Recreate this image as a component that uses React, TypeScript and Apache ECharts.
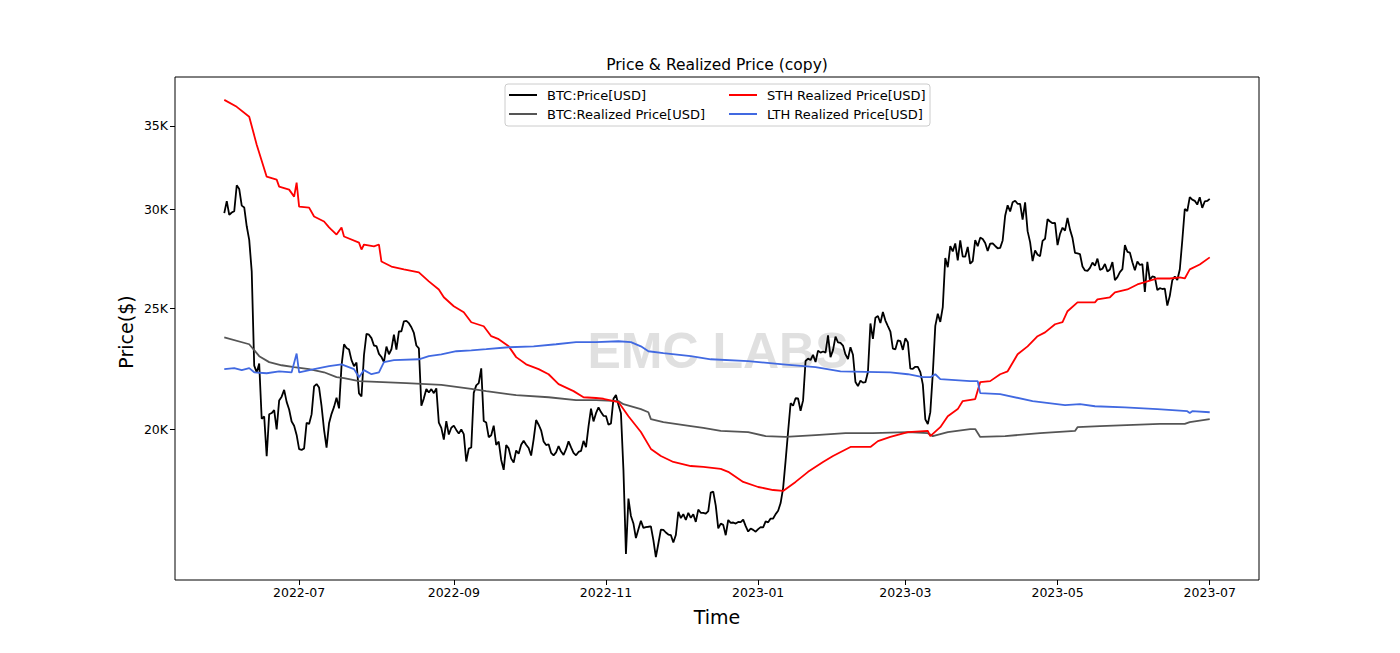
import React, { useEffect, useRef } from 'react';
import * as echarts from 'echarts';

// ---------- DATA ----------
const priceStart = '2022-06-01';
const priceJun2022 = [29800, 30467, 29704, 29833, 29906, 31371, 31155, 30214, 30112, 29083, 28360, 26762, 22487, 22206, 22573, 20381, 20471, 19018, 20553, 20599, 20711, 19987, 21085, 21232, 21502, 21028, 20736, 20281, 20123, 19785];
const priceJul2022 = [19269, 19243, 19298, 20232, 20190, 20549, 21637, 21731, 21592, 20860, 19970, 19323, 20212, 20569, 20836, 21190, 20779, 22485, 23389, 23231, 23164, 22714, 22465, 22609, 21361, 21239, 22930, 23843, 23805, 23657, 23336];
const priceAug2022 = [23314, 22978, 22846, 22630, 23289, 22961, 23175, 23809, 23164, 23948, 23957, 24402, 24425, 24319, 24136, 23883, 23336, 23213, 20877, 21166, 21534, 21398, 21529, 21368, 21560, 20240, 20041, 19617, 20297, 19797, 20050];
const priceSep2022 = [20127, 19969, 19832, 19986, 19812, 18837, 19290, 19329, 21381, 21680, 21769, 22371, 20296, 20241, 19701, 19772, 20127, 19420, 19545, 18891, 18547, 19413, 19297, 18937, 18802, 19222, 19110, 19426, 19573, 19431];
const priceOct2022 = [19312, 19044, 19623, 20336, 20160, 19955, 19546, 19417, 19446, 19141, 19051, 19157, 19382, 19185, 19068, 19268, 19550, 19334, 19139, 19053, 19172, 19208, 19567, 19345, 20095, 20771, 20285, 20595, 20818, 20635, 20495];
const priceNov2022 = [20485, 20159, 20209, 21148, 21300, 20906, 20592, 18541, 15880, 17587, 17034, 16800, 16353, 16619, 16885, 16663, 16689, 16698, 16711, 16292, 15787, 16190, 16610, 16605, 16522, 16459, 16444, 16217, 16444, 17168];
const priceDec2022 = [16968, 17089, 16908, 17130, 16975, 17089, 16848, 17233, 17134, 17129, 17105, 17186, 17784, 17816, 17364, 16647, 16796, 16757, 16439, 16907, 16817, 16830, 16797, 16847, 16841, 16919, 16717, 16552, 16642, 16602, 16547];
const priceJan2023 = [16625, 16688, 16680, 16863, 16836, 16951, 16955, 17091, 17197, 17446, 17934, 18869, 19910, 20976, 20880, 21170, 21161, 20689, 21086, 22677, 22777, 22720, 22934, 22636, 23117, 23032, 23078, 23032, 23774, 22840, 23139];
const priceFeb2023 = [23723, 23471, 23449, 23331, 22955, 22760, 23264, 22940, 21815, 21651, 21870, 21788, 21808, 22221, 24307, 23623, 24565, 24641, 24327, 24829, 24436, 24188, 23947, 23198, 23175, 23562, 23522, 23147];
const priceMar2023 = [23646, 23475, 22362, 22354, 22436, 22429, 22219, 21718, 20363, 20187, 20633, 22163, 24197, 24746, 24375, 25052, 27423, 26965, 28038, 27767, 28176, 27307, 28333, 27493, 27494, 27994, 27139, 27268, 28348, 28033, 28478];
const priceApr2023 = [28411, 28199, 27790, 28168, 28177, 28044, 27925, 27947, 28333, 29653, 30235, 29892, 30400, 30485, 30318, 30315, 29445, 30397, 28822, 28245, 27276, 27817, 27591, 27525, 28307, 28422, 29473, 29340, 29248, 29268];
const priceMay2023 = [28091, 28680, 29006, 28847, 29534, 28904, 28454, 27694, 27658, 27621, 27000, 26805, 26785, 26931, 27192, 27036, 27398, 26833, 26890, 27130, 26753, 26851, 27225, 26334, 26476, 26719, 26868, 28085, 27745, 27702, 27219];
const priceJun2023 = [26819, 27249, 27075, 27119, 25760, 27238, 26346, 26508, 26480, 25851, 25940, 25902, 25918, 25124, 25576, 26328, 26511, 26336, 26851, 28328, 30027, 29912, 30696, 30548, 30480, 30271, 30688, 30087, 30446, 30477];
const priceJul2023 = [30590];

const realizedPrice: [string, number][] = [
  ['2022-06-01', 23690], ['2022-06-11', 23390], ['2022-06-15', 22880], ['2022-06-19', 22630], ['2022-06-24', 22500],
  ['2022-06-29', 22420], ['2022-07-05', 22340], ['2022-07-11', 22210], ['2022-07-16', 22010], ['2022-07-19', 21970],
  ['2022-07-25', 21850], ['2022-08-13', 21770], ['2022-08-27', 21700], ['2022-09-08', 21540], ['2022-09-14', 21450],
  ['2022-09-26', 21290], ['2022-10-09', 21210], ['2022-10-20', 21100], ['2022-10-28', 21100], ['2022-11-06', 21060],
  ['2022-11-08', 20940], ['2022-11-15', 20750], ['2022-11-18', 20630], ['2022-11-19', 20370], ['2022-11-24', 20260],
  ['2022-12-05', 20110], ['2022-12-10', 20040], ['2022-12-17', 19930], ['2022-12-28', 19890], ['2023-01-04', 19740],
  ['2023-01-12', 19710], ['2023-01-24', 19780], ['2023-02-05', 19850], ['2023-02-16', 19850], ['2023-03-02', 19890],
  ['2023-03-10', 19850], ['2023-03-12', 19740], ['2023-03-18', 19890], ['2023-03-27', 20000], ['2023-03-29', 20000],
  ['2023-03-31', 19710], ['2023-04-10', 19740], ['2023-04-24', 19850], ['2023-05-08', 19930], ['2023-05-09', 20070],
  ['2023-05-18', 20110], ['2023-06-11', 20190], ['2023-06-21', 20190], ['2023-06-23', 20260], ['2023-07-01', 20370],
];

const sthRealizedPrice: [string, number][] = [
  ['2022-06-01', 36730], ['2022-06-06', 36260], ['2022-06-11', 35600], ['2022-06-14', 33810], ['2022-06-18', 31870],
  ['2022-06-22', 31700], ['2022-06-23', 31290], ['2022-06-27', 31120], ['2022-06-29', 30720], ['2022-06-30', 31520],
  ['2022-07-01', 30160], ['2022-07-05', 30100], ['2022-07-07', 29610], ['2022-07-11', 29340], ['2022-07-13', 29020],
  ['2022-07-16', 28640], ['2022-07-18', 29020], ['2022-07-19', 28540], ['2022-07-25', 28220], ['2022-07-26', 27860],
  ['2022-07-27', 28120], ['2022-07-31', 28020], ['2022-08-02', 28120], ['2022-08-03', 27250], ['2022-08-07', 27000],
  ['2022-08-12', 26860], ['2022-08-18', 26710], ['2022-08-22', 26270], ['2022-08-26', 25880], ['2022-08-28', 25510],
  ['2022-09-01', 25090], ['2022-09-05', 24810], ['2022-09-08', 24360], ['2022-09-13', 24180], ['2022-09-16', 23740],
  ['2022-09-19', 23610], ['2022-09-23', 23300], ['2022-09-26', 22840], ['2022-09-30', 22540], ['2022-10-05', 22340],
  ['2022-10-09', 22130], ['2022-10-13', 21730], ['2022-10-19', 21450], ['2022-10-23', 21210], ['2022-10-28', 21180],
  ['2022-10-31', 21150], ['2022-11-06', 21020], ['2022-11-10', 20480], ['2022-11-15', 19890], ['2022-11-19', 19280],
  ['2022-11-23', 19030], ['2022-11-28', 18820], ['2022-12-05', 18680], ['2022-12-10', 18650], ['2022-12-17', 18580],
  ['2022-12-20', 18480], ['2022-12-26', 18140], ['2023-01-01', 17970], ['2023-01-07', 17870], ['2023-01-11', 17840],
  ['2023-01-16', 18140], ['2023-01-21', 18480], ['2023-01-27', 18820], ['2023-01-31', 19030], ['2023-02-07', 19350],
  ['2023-02-15', 19350], ['2023-02-18', 19560], ['2023-02-23', 19710], ['2023-03-02', 19890], ['2023-03-10', 19930],
  ['2023-03-11', 19740], ['2023-03-15', 20070], ['2023-03-18', 20480], ['2023-03-22', 20750], ['2023-03-24', 21060],
  ['2023-03-29', 21140], ['2023-03-31', 21810], ['2023-04-04', 21850], ['2023-04-08', 22130], ['2023-04-11', 22250],
  ['2023-04-15', 22960], ['2023-04-19', 23300], ['2023-04-23', 23740], ['2023-04-26', 23910], ['2023-04-30', 24270],
  ['2023-05-03', 24360], ['2023-05-05', 24860], ['2023-05-09', 25270], ['2023-05-16', 25270], ['2023-05-17', 25410],
  ['2023-05-22', 25510], ['2023-05-24', 25740], ['2023-05-29', 25880], ['2023-06-02', 26120], ['2023-06-06', 26270],
  ['2023-06-10', 26410], ['2023-06-15', 26410], ['2023-06-19', 26460], ['2023-06-21', 26410], ['2023-06-23', 26860],
  ['2023-06-27', 27100], ['2023-07-01', 27460],
];

const lthRealizedPrice: [string, number][] = [
  ['2022-06-01', 22340], ['2022-06-05', 22380], ['2022-06-08', 22300], ['2022-06-11', 22380], ['2022-06-13', 22210],
  ['2022-06-18', 22170], ['2022-06-23', 22250], ['2022-06-28', 22210], ['2022-06-30', 22990], ['2022-07-01', 22210],
  ['2022-07-07', 22340], ['2022-07-13', 22460], ['2022-07-18', 22540], ['2022-07-23', 22340], ['2022-07-25', 22010],
  ['2022-07-27', 22300], ['2022-07-30', 22130], ['2022-08-02', 22210], ['2022-08-04', 22630], ['2022-08-08', 22710],
  ['2022-08-18', 22750], ['2022-08-22', 22880], ['2022-08-27', 22960], ['2022-09-02', 23090], ['2022-09-08', 23130],
  ['2022-09-14', 23180], ['2022-09-23', 23260], ['2022-10-03', 23300], ['2022-10-12', 23390], ['2022-10-20', 23480],
  ['2022-10-28', 23480], ['2022-11-06', 23520], ['2022-11-11', 23480], ['2022-11-15', 23300], ['2022-11-18', 23090],
  ['2022-11-24', 23010], ['2022-12-05', 22880], ['2022-12-13', 22750], ['2022-12-28', 22670], ['2023-01-11', 22540],
  ['2023-01-24', 22420], ['2023-02-03', 22250], ['2023-02-23', 22210], ['2023-03-02', 22130], ['2023-03-08', 22010],
  ['2023-03-11', 22010], ['2023-03-13', 22130], ['2023-03-15', 21930], ['2023-03-27', 21850], ['2023-03-30', 21850],
  ['2023-03-31', 21370], ['2023-04-08', 21330], ['2023-04-21', 21060], ['2023-05-04', 20900], ['2023-05-10', 20940],
  ['2023-05-16', 20860], ['2023-05-28', 20820], ['2023-06-10', 20750], ['2023-06-22', 20670], ['2023-06-23', 20600],
  ['2023-06-24', 20670], ['2023-07-01', 20630],
];

const xTickDates = ['2022-07-01', '2022-09-01', '2022-11-01', '2023-01-01', '2023-03-01', '2023-05-01', '2023-07-01'];
const yTickValues = [20000, 25000, 30000, 35000];
const seriesNames = ['BTC:Price[USD]', 'BTC:Realized Price[USD]', 'STH Realized Price[USD]', 'LTH Realized Price[USD]'];
const seriesColors = ['#000000', '#555555', '#ff0000', '#4169e1'];
const titleText = 'Price & Realized Price (copy)';
const xAxisTitle = 'Time';
const yAxisTitle = 'Price($)';
const watermarkText = 'EMC LABS';

// ---------- HELPERS ----------
const DAY = 86400000;
const utc = (s: string) => Date.UTC(+s.slice(0, 4), +s.slice(5, 7) - 1, +s.slice(8, 10));
const pad2 = (n: number) => (n < 10 ? '0' + n : '' + n);
const FONT = '"DejaVu Sans", "Liberation Sans", sans-serif';

export default function App() {
  const ref = useRef<HTMLDivElement>(null);

  useEffect(() => {
    document.body.style.margin = '0';
    const chart = echarts.init(ref.current!, null, { renderer: 'svg' });

    const priceAll = [
      ...priceJun2022, ...priceJul2022, ...priceAug2022, ...priceSep2022, ...priceOct2022, ...priceNov2022,
      ...priceDec2022, ...priceJan2023, ...priceFeb2023, ...priceMar2023, ...priceApr2023, ...priceMay2023,
      ...priceJun2023, ...priceJul2023,
    ];
    const t0 = utc(priceStart);
    const priceData = priceAll.map((v, i) => [t0 + i * DAY, Math.log10(v)]);
    const toData = (arr: [string, number][]) => arr.map(([d, v]) => [utc(d), Math.log10(v)]);
    const datasets = [priceData, toData(realizedPrice), toData(sthRealizedPrice), toData(lthRealizedPrice)];

    // matplotlib-style 5% margins
    const tStart = t0;
    const tEnd = t0 + (priceAll.length - 1) * DAY;
    const tSpan = tEnd - tStart;
    const xMin = tStart - 0.05 * tSpan;
    const xMax = tEnd + 0.05 * tSpan;
    let lo = Infinity, hi = -Infinity;
    datasets.forEach((ds) => ds.forEach((p) => { lo = Math.min(lo, p[1]); hi = Math.max(hi, p[1]); }));
    const ySpan = hi - lo;
    const yMin = lo - 0.05 * ySpan;
    const yMax = hi + 0.05 * ySpan;

    const xTicks = xTickDates.map(utc);
    const yTicks = yTickValues.map((v) => Math.log10(v));

    const legendCommon = {
      orient: 'vertical',
      top: 88,
      padding: 0,
      itemWidth: 28,
      itemHeight: 2,
      itemGap: 5,
      icon: 'rect',
      selectedMode: false,
      textStyle: { fontSize: 13, fontFamily: FONT, color: '#000', lineHeight: 14, padding: [0, 0, 0, 5] },
    };

    chart.setOption({
      animation: false,
      backgroundColor: '#ffffff',
      grid: { left: 175, right: 141, top: 77, bottom: 73, show: true, borderColor: '#000', borderWidth: 1, backgroundColor: 'transparent' },
      legend: [
        { ...legendCommon, left: 509, data: [seriesNames[0], seriesNames[1]] },
        { ...legendCommon, left: 729, data: [seriesNames[2], seriesNames[3]] },
      ],
      xAxis: {
        type: 'value',
        min: xMin,
        max: xMax,
        scale: true,
        axisLine: { show: false },
        splitLine: { show: false },
        axisTick: { show: true, customValues: xTicks, length: 5, lineStyle: { color: '#000', width: 1 } },
        axisLabel: {
          customValues: xTicks,
          color: '#000',
          fontSize: 12.5,
          fontFamily: FONT,
          margin: 6,
          formatter: (v: number) => {
            const d = new Date(v);
            return d.getUTCFullYear() + '-' + pad2(d.getUTCMonth() + 1);
          },
        },
      },
      yAxis: {
        type: 'value',
        min: yMin,
        max: yMax,
        scale: true,
        axisLine: { show: false },
        splitLine: { show: false },
        axisTick: { show: true, customValues: yTicks, length: 5, lineStyle: { color: '#000', width: 1 } },
        axisLabel: {
          customValues: yTicks,
          color: '#000',
          fontSize: 12.5,
          fontFamily: FONT,
          margin: 7,
          formatter: (v: number) => Math.round(Math.pow(10, v) / 1000) + 'K',
        },
      },
      graphic: [
        {
          type: 'text', x: 718, y: 351, z: 0, silent: true,
          style: { text: watermarkText, font: 'bold 50px "Liberation Sans", Arial, sans-serif', fill: '#e0e0e0', align: 'center', verticalAlign: 'middle' },
        },
        {
          type: 'text', x: 717, y: 65, z: 10,
          style: { text: titleText, font: '15.5px ' + FONT, fill: '#000', align: 'center', verticalAlign: 'middle' },
        },
        {
          type: 'text', x: 717, y: 617, z: 10,
          style: { text: xAxisTitle, font: '19px ' + FONT, fill: '#000', align: 'center', verticalAlign: 'middle' },
        },
        {
          type: 'text', x: 126, y: 332, rotation: Math.PI / 2, z: 10,
          style: { text: yAxisTitle, font: '19px ' + FONT, fill: '#000', align: 'center', verticalAlign: 'middle' },
        },
        {
          type: 'rect', z: 3, silent: true,
          shape: { x: 505, y: 84, width: 425, height: 42, r: 3 },
          style: { fill: 'rgba(255,255,255,0.8)', stroke: '#cccccc', lineWidth: 1 },
        },
      ],
      series: datasets.map((data, i) => ({
        name: seriesNames[i],
        type: 'line',
        data,
        showSymbol: false,
        symbol: 'none',
        color: seriesColors[i],
        lineStyle: { color: seriesColors[i], width: 1.8 },
        z: 2 + i * 0.1,
      })),
    });

    return () => chart.dispose();
  }, []);

  return <div ref={ref} style={{ width: 1400, height: 653 }} />;
}
